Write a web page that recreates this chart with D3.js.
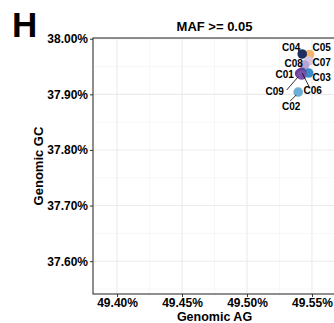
<!DOCTYPE html>
<html>
<head>
<meta charset="utf-8">
<script src="https://cdn.jsdelivr.net/npm/d3@7"></script>
<style>
  html, body { margin: 0; padding: 0; background: #fff; }
  svg { display: block; }
  text { font-family: "Liberation Sans", Arial, Helvetica, sans-serif; font-weight: bold; fill: #000; }
</style>
</head>
<body>
<svg id="chart" width="334" height="323"></svg>
<script>
// Genomic base composition per sample (percent)
const samples = ["C01", "C02", "C03", "C04", "C05", "C06", "C07", "C08", "C09"];
const genomicAG = [49.5405, 49.5394, 49.5475, 49.5425, 49.5482, 49.5421, 49.5475, 49.5444, 49.5421];
const genomicGC = [37.9374, 37.9041, 37.9383, 37.9725, 37.9716, 37.9398, 37.9600, 37.9527, 37.9347];
const sampleColors = ["#6a3d9a", "#6baed6", "#3a8cc6", "#1c2f5e", "#f5b36b", "#5b4a9e", "#d8c7e4", "#b9a3cf", "#7b52aa"];

const xTicks = [49.40, 49.45, 49.50, 49.55];
const yTicks = [37.60, 37.70, 37.80, 37.90, 38.00];
const xMinor = [49.425, 49.475, 49.525];
const yMinor = [37.55, 37.65, 37.75, 37.85, 37.95];

// Repelled label placement: label offset from its point, plus optional leader segment
const labelOffset = {
  C01: { dx: -15, dy: 1 },
  C02: { dx: -7, dy: 14, seg: [-8, 9, -2, 3] },
  C03: { dx: 13, dy: 4 },
  C04: { dx: -11, dy: -7 },
  C05: { dx: 12, dy: -7 },
  C06: { dx: 11, dy: 18.5, seg: [8, 15.5, 0.5, 1] },
  C07: { dx: 13, dy: 2 },
  C08: { dx: -11, dy: -2 },
  C09: { dx: -27, dy: 16, seg: [-15, 15, -3.5, 1.7] }
};

const svg = d3.select("#chart");
const pLeft = 93, pRight = 336, pTop = 38, pBottom = 294;

const x = d3.scaleLinear().domain([49.3815, 49.5685]).range([pLeft, pRight]);
const y = d3.scaleLinear().domain([37.541, 38.0013]).range([pBottom, pTop]);

const pct = v => d3.format(".2f")(v) + "%";

// grid
const grid = svg.append("g");
grid.selectAll(".xm").data(xMinor).join("line")
  .attr("x1", d => x(d)).attr("x2", d => x(d)).attr("y1", pTop).attr("y2", pBottom)
  .attr("stroke", "#f2f2f2").attr("stroke-width", 0.6);
grid.selectAll(".ym").data(yMinor).join("line")
  .attr("y1", d => y(d)).attr("y2", d => y(d)).attr("x1", pLeft).attr("x2", pRight)
  .attr("stroke", "#f2f2f2").attr("stroke-width", 0.6);
grid.selectAll(".xg").data(xTicks).join("line")
  .attr("x1", d => x(d)).attr("x2", d => x(d)).attr("y1", pTop).attr("y2", pBottom)
  .attr("stroke", "#ebebeb").attr("stroke-width", 1.1);
grid.selectAll(".yg").data(yTicks).join("line")
  .attr("y1", d => y(d)).attr("y2", d => y(d)).attr("x1", pLeft).attr("x2", pRight)
  .attr("stroke", "#ebebeb").attr("stroke-width", 1.1);

// axes
const xAxis = svg.append("g").attr("transform", `translate(0,${pBottom})`)
  .call(d3.axisBottom(x).tickValues(xTicks).tickFormat(pct).tickSize(3).tickPadding(1.5));
const yAxis = svg.append("g").attr("transform", `translate(${pLeft},0)`)
  .call(d3.axisLeft(y).tickValues(yTicks).tickFormat(pct).tickSize(3).tickPadding(2));
[xAxis, yAxis].forEach(a => {
  a.select(".domain").remove();
  a.selectAll(".tick line").attr("stroke", "#333");
  a.selectAll(".tick text").attr("font-size", 12).attr("fill", "#000")
    .style("font-family", "'Liberation Sans', Arial, sans-serif").style("font-weight", "bold");
});

// panel border
svg.append("rect").attr("x", pLeft).attr("y", pTop).attr("width", pRight - pLeft).attr("height", pBottom - pTop)
  .attr("fill", "none").attr("stroke", "#333").attr("stroke-width", 1.1);

const data = samples.map((s, i) => ({ s, ag: genomicAG[i], gc: genomicGC[i], c: sampleColors[i] }));

// points
const drawOrder = ["C05", "C04", "C07", "C08", "C03", "C06", "C01", "C09", "C02"];
svg.append("g").selectAll("circle")
  .data(drawOrder.map(s => data.find(d => d.s === s))).join("circle")
  .attr("cx", d => x(d.ag)).attr("cy", d => y(d.gc)).attr("r", 4.8)
  .attr("fill", d => d.c);

// label leader segments
svg.append("g").selectAll("line").data(data.filter(d => labelOffset[d.s].seg)).join("line")
  .attr("x1", d => x(d.ag) + labelOffset[d.s].seg[0])
  .attr("y1", d => y(d.gc) + labelOffset[d.s].seg[1])
  .attr("x2", d => x(d.ag) + labelOffset[d.s].seg[2])
  .attr("y2", d => y(d.gc) + labelOffset[d.s].seg[3])
  .attr("stroke", "#000").attr("stroke-width", 0.8);

// point labels
svg.append("g").selectAll("text").data(data).join("text")
  .attr("x", d => x(d.ag) + labelOffset[d.s].dx)
  .attr("y", d => y(d.gc) + labelOffset[d.s].dy)
  .attr("dy", "0.35em").attr("text-anchor", "middle").attr("font-size", 10)
  .text(d => d.s);

// titles
svg.append("text").attr("x", (pLeft + pRight) / 2).attr("y", 31).attr("text-anchor", "middle")
  .attr("font-size", 13).text("MAF >= 0.05");
svg.append("text").attr("x", (pLeft + pRight) / 2).attr("y", 321).attr("text-anchor", "middle")
  .attr("font-size", 12.5).text("Genomic AG");
svg.append("text").attr("transform", `translate(43,${(pTop + pBottom) / 2}) rotate(-90)`)
  .attr("text-anchor", "middle").attr("font-size", 13).text("Genomic GC");
svg.append("text").attr("x", 12).attr("y", 37).attr("font-size", 35).text("H");
</script>
</body>
</html>
